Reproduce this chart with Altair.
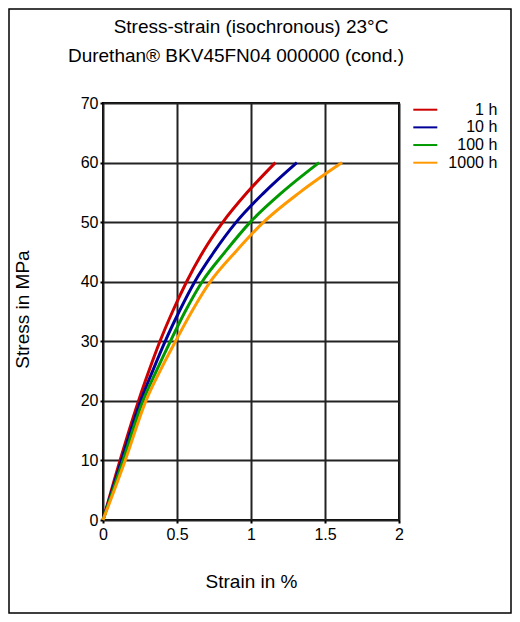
import altair as alt
import pandas as pd

# ---- data ----
series = ["1 h", "10 h", "100 h", "1000 h"]
colors = ["#cc0000", "#000099", "#009900", "#ff9900"]
stress = [0, 10, 20, 25, 30, 35, 40, 45, 50, 55, 60]
strain_1h = [0, 0.115, 0.24, 0.31, 0.385, 0.47, 0.565, 0.675, 0.81, 0.975, 1.165]
strain_10h = [0, 0.125, 0.255, 0.335, 0.42, 0.515, 0.62, 0.75, 0.90, 1.09, 1.31]
strain_100h = [0, 0.135, 0.27, 0.36, 0.455, 0.555, 0.67, 0.825, 0.995, 1.21, 1.46]
strain_1000h = [0, 0.15, 0.29, 0.385, 0.49, 0.60, 0.725, 0.895, 1.085, 1.33, 1.615]
x_ticks = [0, 0.5, 1, 1.5, 2]
y_ticks = [0, 10, 20, 30, 40, 50, 60, 70]
title_lines = ["Stress-strain (isochronous) 23°C", "Durethan® BKV45FN04 000000 (cond.)"]

rows = []
for name, strains in zip(series, [strain_1h, strain_10h, strain_100h, strain_1000h]):
    for s, e in zip(stress, strains):
        rows.append({"series": name, "stress": s, "strain": e})
df = pd.DataFrame(rows)
leg_df = pd.DataFrame({"series": series})

FONT = "Liberation Sans"
W, H = 296, 417
color_scale = alt.Scale(domain=series, range=colors)
single = alt.Data(values=[{"k": 1}])

frame = alt.Chart(single).mark_rect(
    fill="white", fillOpacity=0, stroke="black", strokeWidth=1.5
).encode(
    x=alt.value(-94), x2=alt.value(408), y=alt.value(-94), y2=alt.value(510)
)

title1 = alt.Chart(single).mark_text(
    text=title_lines[0], fontSize=19, font=FONT, color="black",
    align="center", baseline="alphabetic"
).encode(x=alt.value(148), y=alt.value(-70))

title2 = alt.Chart(single).mark_text(
    text=title_lines[1], fontSize=19, font=FONT, color="black",
    align="center", baseline="alphabetic"
).encode(x=alt.value(133), y=alt.value(-41))

lines = alt.Chart(df).mark_line(strokeWidth=3, interpolate="monotone").encode(
    x=alt.X("strain:Q", scale=alt.Scale(domain=[0, 2], nice=False),
            axis=alt.Axis(values=x_ticks, format="~g", title="Strain in %",
                          titleX=148, titleY=67, titleBaseline="alphabetic",
                          labelPadding=3, labelFlush=False)),
    y=alt.Y("stress:Q", scale=alt.Scale(domain=[0, 70], nice=False),
            axis=alt.Axis(values=y_ticks, title="Stress in MPa",
                          titleX=-74.4, titleY=206, titleAngle=270,
                          titleAlign="center", titleBaseline="alphabetic",
                          labelPadding=2, labelFlush=False)),
    color=alt.Color("series:N", scale=color_scale, legend=None),
    order=alt.Order("stress:Q"),
)

leg_y = alt.Y("series:N", scale=alt.Scale(type="point", domain=series, range=[6.7, 59.7], padding=0), axis=None)

leg_rules = alt.Chart(leg_df).mark_rule(strokeWidth=2).encode(
    x=alt.value(310.3), x2=alt.value(334.3), y=leg_y,
    color=alt.Color("series:N", scale=color_scale, legend=None),
)
leg_text = alt.Chart(leg_df).mark_text(
    align="right", baseline="middle", fontSize=16, font=FONT, color="black"
).encode(
    x=alt.value(394.3), y=leg_y, text="series:N"
)

chart = alt.layer(frame, title1, title2, lines, leg_rules, leg_text).resolve_scale(
    y="independent"
).properties(
    width=W, height=H,
    autosize=alt.AutoSizeParams(type="none"),
    padding={"left": 95, "top": 95, "right": 113, "bottom": 94},
).configure_view(
    stroke="black", strokeWidth=2
).configure_axis(
    labelFont=FONT, labelFontSize=16, labelColor="black",
    titleFont=FONT, titleFontSize=19, titleFontWeight="normal", titleColor="black",
    grid=True, gridColor="#222222", gridWidth=2, gridOpacity=1,
    domain=False, tickColor="black", tickSize=3, tickWidth=2,
)

chart.save("out.html", embed_options={"renderer": "svg", "actions": False})
